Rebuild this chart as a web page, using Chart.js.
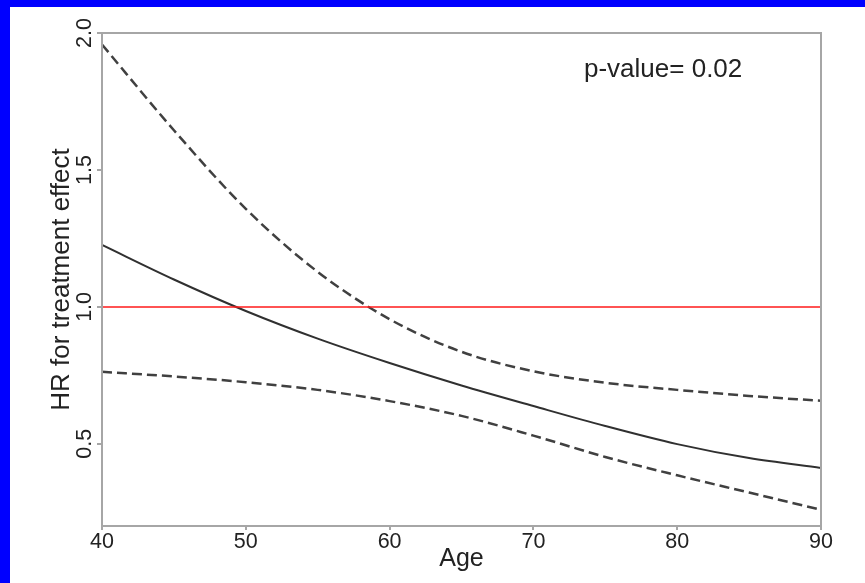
<!DOCTYPE html>
<html>
<head>
<meta charset="utf-8">
<script src="https://cdn.jsdelivr.net/npm/chart.js@4.4.1/dist/chart.umd.min.js"></script>
<style>
    html, body { margin: 0; padding: 0; background: #fff; overflow: hidden; }
    #wrap {
        width: 855px;
        height: 576px;
        border-left: 10px solid #0000ff;
        border-top: 7px solid #0000ff;
        background: #fff;
    }
    canvas { display: block; }
</style>
</head>
<body>
<div id="wrap"><canvas id="hr" width="855" height="576"></canvas></div>
<script>
var ages  = [40, 45, 50, 55, 60, 65, 70, 75, 80, 85, 90];
var hr    = [1.226, 1.100, 0.985, 0.884, 0.795, 0.713, 0.638, 0.565, 0.499, 0.448, 0.412];
var upper = [1.958, 1.645, 1.358, 1.128, 0.955, 0.836, 0.765, 0.723, 0.697, 0.675, 0.657];
var lower = [0.763, 0.746, 0.725, 0.697, 0.656, 0.602, 0.530, 0.452, 0.385, 0.322, 0.259];

// reference line HR = 1
var refAges = [40, 90];
var refHr   = [1, 1];

var xTicks = [40, 50, 60, 70, 80, 90];
var yTicks = [0.5, 1.0, 1.5, 2.0];
var pText  = 'p-value= 0.02';

var FONT = '"Liberation Sans", Arial, Helvetica, sans-serif';
var AXIS_GRAY = '#a6a6a6';

function points(xs, ys) {
    var res = [];
    for(var i = 0; i < xs.length; i++) {
        res.push({x: xs[i], y: ys[i]});
    }
    return res;
}

// box around plot area, rotated y labels, p-value note
var frame = {
    id: 'frame',
    afterDraw: function(chart) {
        var ctx = chart.ctx;
        var area = chart.chartArea;
        var yScale = chart.scales.y;

        ctx.save();
        ctx.strokeStyle = AXIS_GRAY;
        ctx.lineWidth = 2;
        ctx.strokeRect(area.left, area.top, area.right - area.left, area.bottom - area.top);

        ctx.fillStyle = '#222';
        ctx.font = '21.5px ' + FONT;
        ctx.textAlign = 'center';
        ctx.textBaseline = 'alphabetic';
        for(var i = 0; i < yTicks.length; i++) {
            var py = yScale.getPixelForValue(yTicks[i]);
            ctx.save();
            ctx.translate(area.left - 11, py);
            ctx.rotate(-Math.PI / 2);
            ctx.fillText(yTicks[i].toFixed(1), 0, 0);
            ctx.restore();
        }

        ctx.font = '26px ' + FONT;
        ctx.textAlign = 'left';
        ctx.fillText(pText, area.left + 482, area.top + 44);
        ctx.restore();
    }
};

new Chart(document.getElementById('hr'), {
    type: 'line',
    data: {
        datasets: [{
            data: points(refAges, refHr),
            borderColor: '#ff1a1a',
            borderWidth: 1.5,
            pointRadius: 0,
            order: 0,
        }, {
            data: points(ages, hr),
            borderColor: '#303030',
            borderWidth: 2,
            pointRadius: 0,
            cubicInterpolationMode: 'monotone',
            order: 1,
        }, {
            data: points(ages, upper),
            borderColor: '#404040',
            borderWidth: 2.5,
            borderDash: [10, 5],
            pointRadius: 0,
            cubicInterpolationMode: 'monotone',
            order: 1,
        }, {
            data: points(ages, lower),
            borderColor: '#404040',
            borderWidth: 2.5,
            borderDash: [10, 5],
            pointRadius: 0,
            cubicInterpolationMode: 'monotone',
            order: 1,
        }],
    },
    options: {
        responsive: false,
        animation: false,
        devicePixelRatio: 1,
        layout: {padding: {top: 26, right: 44, left: 0, bottom: 0}},
        plugins: {
            legend: {display: false},
            tooltip: {enabled: false},
        },
        scales: {
            x: {
                type: 'linear',
                min: 40,
                max: 90,
                afterBuildTicks: function(scale) {
                    scale.ticks = xTicks.map(function(v) { return {value: v}; });
                },
                afterFit: function(scale) { scale.height = 57; },
                grid: {drawOnChartArea: false, color: AXIS_GRAY, tickLength: 4, lineWidth: 2},
                border: {color: AXIS_GRAY, width: 2},
                ticks: {
                    color: '#222',
                    padding: -1,
                    maxRotation: 0,
                    font: {family: FONT, size: 21.5},
                },
                title: {
                    display: true,
                    text: 'Age',
                    color: '#222',
                    font: {family: FONT, size: 25},
                    padding: {top: 0, bottom: 9},
                },
            },
            y: {
                type: 'linear',
                min: 0.2,
                max: 2.0,
                afterBuildTicks: function(scale) {
                    scale.ticks = yTicks.map(function(v) { return {value: v}; });
                },
                afterFit: function(scale) { scale.width = 92; },
                grid: {drawOnChartArea: false, color: AXIS_GRAY, tickLength: 5, lineWidth: 2},
                border: {color: AXIS_GRAY, width: 2},
                ticks: {display: false},
                title: {
                    display: true,
                    text: 'HR for treatment effect',
                    color: '#222',
                    font: {family: FONT, size: 26},
                    padding: {top: 36, bottom: 0},
                },
            },
        },
    },
    plugins: [frame],
});
</script>
</body>
</html>
